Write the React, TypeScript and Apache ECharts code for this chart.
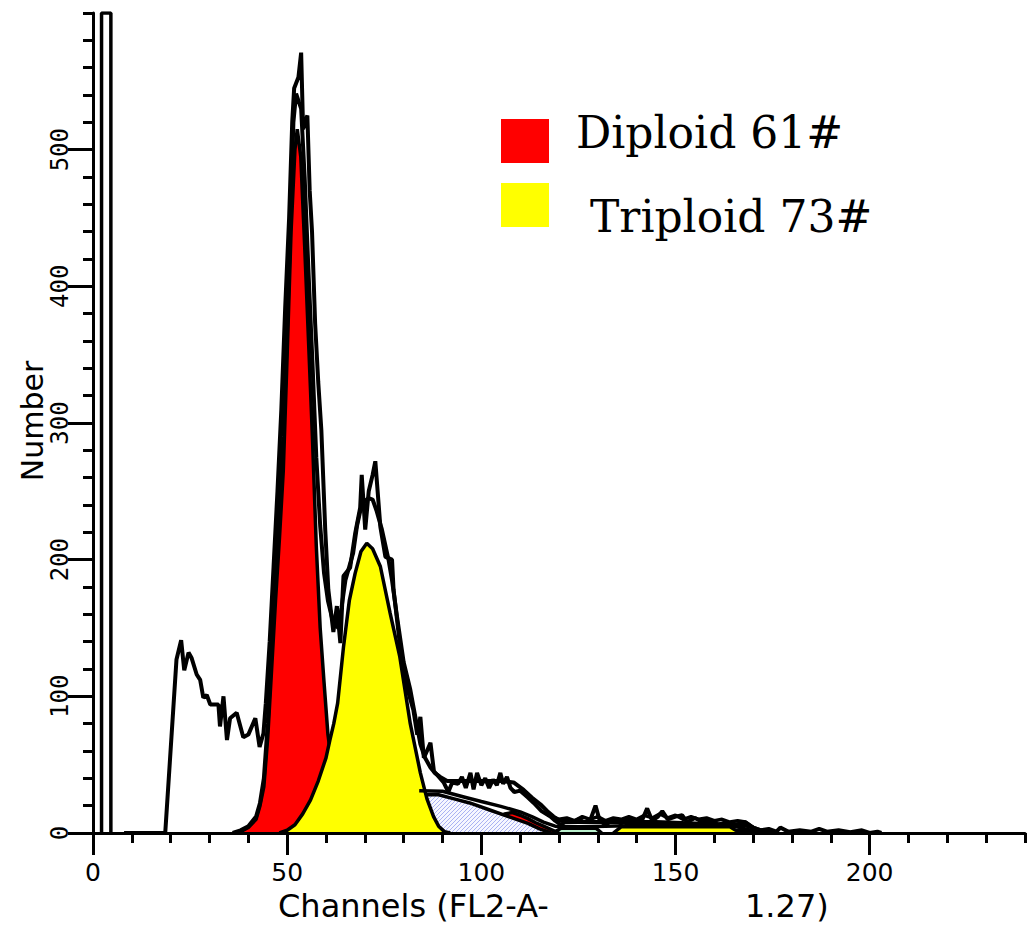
import React, { useEffect, useRef } from "react";
import * as echarts from "echarts";

// ---- axis tick values ----
const xMajorTicks = [0, 50, 100, 150, 200];
const yMajorTicks = [0, 100, 200, 300, 400, 500];

// ---- legend ----
const legendNames = ["Diploid 61#", "Triploid 73#"];
const legendColors = ["#ff0000", "#ffff00"];

// ---- data: [channel, count] ----
const spike = [[2.2, 0], [2.2, 600], [4.6, 600], [4.6, 0]];

const rawA = [
  [8, 0], [18.6, 0], [21.5, 127], [22.7, 141], [23.5, 119], [24.6, 132], [25.4, 128], [26.7, 116],
  [27.6, 112], [28.4, 99], [29.3, 101], [30.2, 94], [32.3, 94], [32.7, 78], [33.6, 100], [34.5, 68],
  [35.3, 84], [37, 88], [38.7, 70], [40, 72], [41.8, 84], [42.9, 63], [43.9, 73], [44.5, 95],
  [45.5, 140], [46.5, 195], [47.5, 250], [48.5, 310], [49.5, 385], [50.5, 450], [51.3, 520],
  [51.8, 545], [52.9, 553], [53.6, 571], [54.1, 515], [54.6, 520], [55.2, 525], [55.8, 470],
  [56.4, 440], [57.2, 373], [58, 330], [58.8, 295], [59.8, 222], [60.6, 178], [61.9, 147],
  [62.8, 166], [63.7, 139], [64.5, 188], [66.2, 194], [67.5, 219], [68.8, 238], [69.2, 262],
  [70.1, 222], [71, 250], [72, 262], [72.7, 272], [74, 224], [75.3, 202], [77, 200], [77.4, 178],
  [79.1, 136], [81, 105], [82.5, 90], [83.5, 72], [84.3, 85], [85.2, 55], [86, 60], [86.9, 66],
  [87.8, 45], [88.8, 42], [90.3, 37], [91.5, 30], [92.5, 37], [94, 36], [95, 41], [96, 33],
  [97.2, 44], [98, 32], [98.9, 44], [100, 35], [101, 40], [102, 33], [103, 39], [104, 35],
  [104.9, 44], [105.6, 36], [106.6, 41], [107.5, 33], [108.5, 30], [110, 31], [112, 26],
  [113.5, 22], [115.5, 16], [117.8, 12], [119, 9], [120.5, 6], [122, 9], [123.5, 8], [125, 10],
  [126.5, 8], [128, 9], [129.4, 20], [130.5, 9], [132, 6], [134, 10], [136, 7], [138, 11],
  [140, 8], [141.5, 10], [142.7, 18], [144, 9], [145.5, 12], [146.6, 16], [148, 10], [150, 12],
  [151.7, 13], [153, 8], [155, 11], [157, 8], [159, 9], [161, 6], [163, 8], [165, 6], [167, 7],
  [168, 8], [170, 4], [172, 2], [174, 3], [176, 1], [177, 4], [179, 1], [182, 2], [185, 1],
  [187, 3], [189, 1], [192, 2], [195, 0.5], [198, 2], [200, 0], [202, 1], [203, 0]
];

const rawB = [
  [118, 12], [120, 10], [122, 11], [124, 9], [126, 12], [128, 10], [130, 12], [132, 9], [134, 11],
  [136, 10], [138, 12], [140, 10], [142, 13], [144, 11], [146, 14], [148, 11], [150, 13], [152, 10],
  [154, 12], [156, 10], [158, 11], [160, 9], [162, 10], [164, 8], [166, 9], [168, 8], [170, 4]
];

const fitTotal = [
  [36, 0], [38, 2], [40, 5], [42, 12], [43, 22], [44, 40], [45, 80], [46, 135], [47, 185],
  [48, 235], [49, 290], [50, 370], [51, 460], [51.6, 520], [52.3, 541], [53, 535], [53.6, 530],
  [54.5, 480], [55.5, 410], [56.5, 345], [57.5, 275], [58.5, 225], [59.5, 190], [60.5, 170],
  [61.5, 158], [62.5, 152], [63.2, 150], [64, 165], [65, 185], [66, 195], [67, 205], [68, 225],
  [69, 238], [70, 243], [71, 245], [72, 244], [73, 236], [74.4, 222], [76.1, 200], [77, 185],
  [78.3, 158], [80, 125], [81.7, 105], [83, 85], [84.3, 65], [85.5, 55], [86.9, 48], [88, 44],
  [89.4, 41], [91.2, 38], [95, 38], [100, 38], [105, 38], [108.3, 37], [110.9, 31.5], [113, 26],
  [115.2, 21], [117, 16], [118.6, 12], [120, 9.5], [122, 8], [126, 8], [130, 8], [135, 8],
  [140, 8], [145, 8], [150, 7.5], [155, 7], [160, 6.5], [165, 6], [168, 5.5], [170, 4],
  [172, 2], [175, 0.5]
];

const sLine = [
  [84, 31], [90, 30.5], [96, 26], [100, 23], [105, 19.5], [110, 15.5], [113, 12], [116, 8], [119, 5],
  [125, 4.5], [132, 5], [140, 5.5], [150, 5.5], [160, 5.5], [165, 5], [168, 3], [171, 1], [173, 0]
];

const diploidG1 = [
  [36, 0], [38, 1], [40, 4], [42, 10], [43, 20], [44, 34], [45, 70], [46, 120], [47, 170],
  [48, 215], [49, 265], [50, 350], [51, 440], [52, 500], [52.6, 515], [53.5, 495], [54.5, 430],
  [55.5, 360], [56.5, 290], [57.5, 210], [58.5, 150], [59.5, 110], [60.5, 72], [62, 40],
  [64, 18], [66, 7], [68, 2], [70, 0]
];

const diploidG2 = [
  [100, 0], [104, 10], [106, 14], [108, 15], [110, 13], [112, 10.5], [114, 7.5], [116, 5],
  [118, 2.5], [120, 0]
];

const triploidG1 = [
  [48, 0], [50, 2], [52, 6], [54, 14], [56, 24], [58, 38], [60, 55], [61, 68], [62, 80], [63, 95],
  [64.5, 136], [66, 170], [67.5, 190], [69, 206], [70.5, 212], [72, 208], [74, 195], [76.5, 161],
  [79, 129], [81.7, 80], [84.3, 44], [86, 25], [87.7, 12], [89, 5], [90.5, 1], [92, 0]
];

const triploidG2 = [[134, 0], [136, 4.5], [164, 4.5], [165.5, 2], [170, 2], [171, 0]];

const sPhase = [
  [48, 0], [52, 3], [55, 8], [57, 14], [60, 20], [65, 24], [75, 27], [85, 28], [89, 28],
  [93, 25], [97, 22], [102, 17], [107, 12], [112, 7], [115, 3], [118, 0]
];

const triploidS = [[118.5, 0], [120.5, 3.5], [129.5, 3.5], [131, 0]];

function makeHatch(): any {
  try {
    const c = document.createElement("canvas");
    c.width = 4;
    c.height = 4;
    const ctx = c.getContext("2d");
    if (!ctx) return "#d4d8f6";
    ctx.fillStyle = "#f6f7ff";
    ctx.fillRect(0, 0, 4, 4);
    ctx.fillStyle = "#aab2f2";
    for (let i = 0; i < 4; i++) ctx.fillRect(i, 3 - i, 1, 1);
    return { image: c.toDataURL(), repeat: "repeat" };
  } catch (e) {
    return "#d4d8f6";
  }
}

export default function App() {
  const ref = useRef<HTMLDivElement>(null);
  useEffect(() => {
    const chart = echarts.init(ref.current!, null, { renderer: "svg" });
    let zc = 1;
    const area = (name: string, data: number[][], color: any) => ({
      name,
      type: "line",
      z: zc++,
      data,
      symbol: "none",
      silent: true,
      lineStyle: { color: "#000", width: 3.5 },
      areaStyle: { color, opacity: 1 },
    });
    const line = (name: string, data: number[][], width = 4) => ({
      name,
      type: "line",
      z: zc++,
      data,
      symbol: "none",
      silent: true,
      lineStyle: { color: "#000", width },
    });
    const axisCommon = {
      type: "value",
      min: 0,
      splitLine: { show: false },
      z: 50,
    };
    chart.setOption({
      animation: false,
      backgroundColor: "#fff",
      grid: { left: 93, right: 6, top: 13, bottom: 94 },
      xAxis: [
        {
          ...axisCommon,
          max: 240,
          interval: 10,
          position: "bottom",
          axisLine: { show: true, lineStyle: { color: "#000", width: 3 } },
          axisTick: { show: true, length: 10, lineStyle: { color: "#000", width: 3 } },
          axisLabel: { show: false },
        },
        {
          ...axisCommon,
          max: 240,
          position: "bottom",
          axisLine: { show: false },
          axisTick: { show: true, customValues: xMajorTicks, length: 22, lineStyle: { color: "#000", width: 3 } },
          axisLabel: {
            show: true,
            customValues: xMajorTicks,
            margin: 27,
            color: "#000",
            fontSize: 25,
            fontFamily: "DejaVu Sans",
          },
        },
      ],
      yAxis: [
        {
          ...axisCommon,
          max: 600,
          interval: 20,
          position: "left",
          axisLine: { show: true, lineStyle: { color: "#000", width: 3 } },
          axisTick: { show: true, length: 10, lineStyle: { color: "#000", width: 3 } },
          axisLabel: { show: false },
        },
        {
          ...axisCommon,
          max: 600,
          position: "left",
          axisLine: { show: false },
          axisTick: { show: true, customValues: yMajorTicks, length: 25, lineStyle: { color: "#000", width: 3 } },
          axisLabel: {
            show: true,
            customValues: yMajorTicks,
            rotate: 90,
            margin: 21,
            color: "#000",
            fontSize: 24,
            fontFamily: "DejaVu Sans Mono",
          },
        },
      ],
      series: [
        area("Triploid S", triploidS, "#b9f0cc"),
        area("Triploid G2", triploidG2, "#ffff00"),
        area("Diploid G2", diploidG2, "#ff0000"),
        area("S phase", sPhase, makeHatch()),
        area(legendNames[0], diploidG1, legendColors[0]),
        area(legendNames[1], triploidG1, legendColors[1]),
        line("S+G2", sLine, 3.5),
        line("Fit", fitTotal, 4),
        line("Raw B", rawB, 3.5),
        line("Raw A", rawA, 4),
        line("Spike", spike, 3.5),
      ],
      graphic: [
        { type: "rect", z: 100, shape: { x: 501, y: 119, width: 48, height: 44 }, style: { fill: legendColors[0] } },
        { type: "rect", z: 100, shape: { x: 501, y: 183, width: 48, height: 44 }, style: { fill: legendColors[1] } },
        {
          type: "text",
          z: 100,
          x: 576,
          y: 132,
          style: { text: legendNames[0], fill: "#000", font: "44px 'DejaVu Serif'", align: "left", verticalAlign: "middle" },
        },
        {
          type: "text",
          z: 100,
          x: 590,
          y: 216,
          style: { text: legendNames[1], fill: "#000", font: "44px 'DejaVu Serif'", align: "left", verticalAlign: "middle" },
        },
        {
          type: "text",
          z: 100,
          x: 32,
          y: 421,
          rotation: Math.PI / 2,
          style: { text: "Number", fill: "#000", font: "30px 'DejaVu Sans'", align: "center", verticalAlign: "middle" },
        },
        {
          type: "text",
          z: 100,
          x: 278,
          y: 906,
          style: { text: "Channels (FL2-A-", fill: "#000", font: "32px 'DejaVu Sans'", align: "left", verticalAlign: "middle" },
        },
        {
          type: "text",
          z: 100,
          x: 745,
          y: 906,
          style: { text: "1.27)", fill: "#000", font: "32px 'DejaVu Sans'", align: "left", verticalAlign: "middle" },
        },
      ],
    });
    return () => chart.dispose();
  }, []);
  return <div ref={ref} style={{ position: "fixed", left: 0, top: 0, width: 1031, height: 927 }} />;
}
